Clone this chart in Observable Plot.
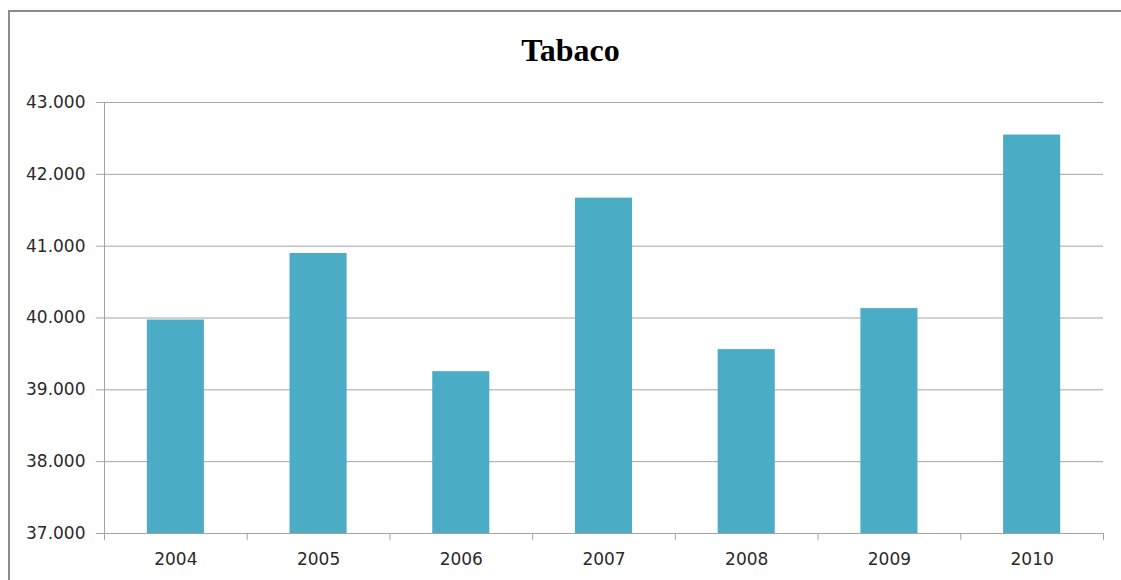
<!DOCTYPE html>
<html>
<head>
<meta charset="utf-8">
<script src="https://cdn.jsdelivr.net/npm/d3@7"></script>
<script src="https://cdn.jsdelivr.net/npm/@observablehq/plot@0.6"></script>
<style>
  html, body { margin: 0; padding: 0; background: #fff; }
  #wrap { position: relative; width: 1121px; height: 580px; overflow: hidden; background: #fff; }
  #frame { position: absolute; left: 8px; top: 10px; width: 1200px; height: 700px; border: 2px solid #8c8c8c; box-sizing: border-box; }
  #title { position: absolute; left: 420px; width: 301px; top: 34px; text-align: center;
           font-family: "Liberation Serif", "Times New Roman", serif; font-weight: bold; font-size: 32px; line-height: 32px; color: #000; }
  #chart { position: absolute; left: 0; top: 80px; }
</style>
</head>
<body>
<div id="wrap">
  <div id="frame"></div>
  <div id="title">Tabaco</div>
  <div id="chart"></div>
</div>
<script>
const years = ["2004", "2005", "2006", "2007", "2008", "2009", "2010"];
const values = [39972, 40898, 39253, 41669, 39560, 40131, 42547];
const yTicks = [37000, 38000, 39000, 40000, 41000, 42000, 43000];

const data = years.map((year, i) => ({year, value: values[i]}));
const fmt = d3.formatLocale({decimal: ",", thousands: ".", grouping: [3]}).format(",");

const W = 1121, H = 500, mL = 104, mR = 18, mT = 22, mB = 47;
const step = (W - mL - mR) / years.length;
const gridColor = "#a3a3a3";
const base = yTicks[0];

const chart = Plot.plot({
  width: W, height: H,
  marginLeft: mL, marginRight: mR, marginTop: mT, marginBottom: mB,
  style: {fontFamily: "DejaVu Sans", fontSize: "17px", color: "#2a2a2a", background: "transparent", overflow: "visible"},
  x: {domain: years, paddingInner: 0.6, paddingOuter: 0.3, round: false, label: null},
  y: {domain: [yTicks[0], yTicks[yTicks.length - 1]], label: null},
  marks: [
    Plot.ruleY(yTicks, {stroke: gridColor, strokeWidth: 1}),
    Plot.axisY(yTicks, {tickSize: 8, tickPadding: 11, tickFormat: fmt, stroke: gridColor, fill: "#2a2a2a", label: null}),
    Plot.barY(data, {x: "year", y1: base, y2: "value", fill: "#4bacc6"}),
    // left value axis line
    Plot.ruleX([years[0]], {x: d => d, dx: -step / 2, y1: yTicks[0], y2: yTicks[yTicks.length - 1], stroke: gridColor}),
    // category boundary ticks below the axis
    Plot.ruleX(years, {x: d => d, dx: -step / 2, y1: base, y2: base, insetBottom: -7, stroke: gridColor}),
    Plot.ruleX([years[years.length - 1]], {x: d => d, dx: step / 2, y1: base, y2: base, insetBottom: -7, stroke: gridColor}),
    Plot.ruleY([base], {stroke: gridColor}),
    Plot.axisX({tickSize: 0, tickPadding: 19, fill: "#2a2a2a", label: null})
  ]
});
document.getElementById("chart").appendChild(chart);
</script>
</body>
</html>
